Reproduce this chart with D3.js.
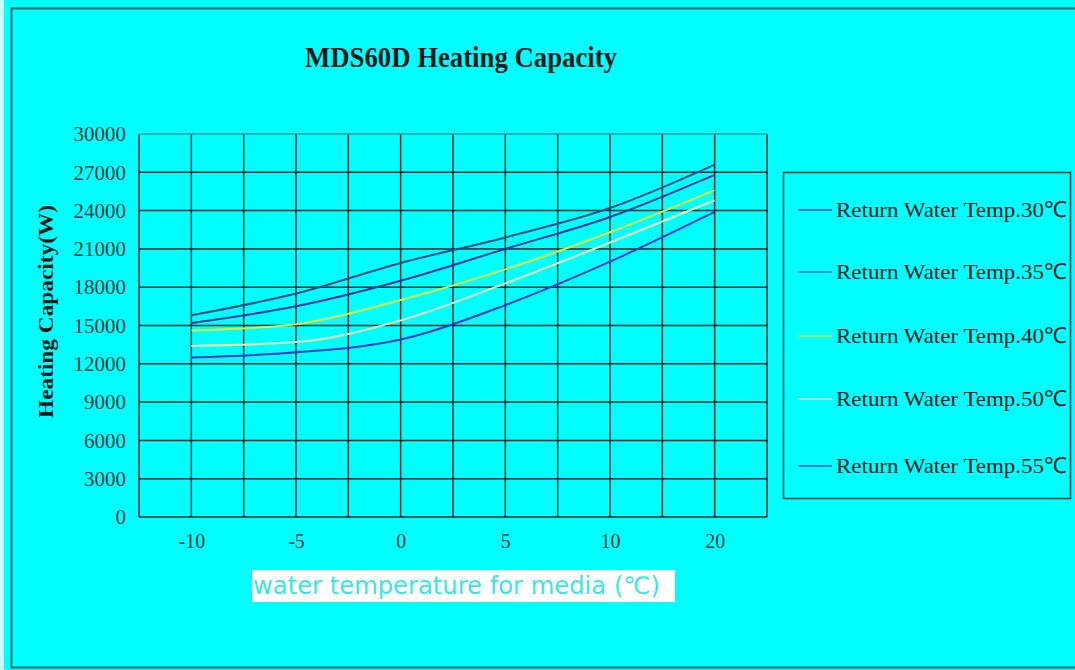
<!DOCTYPE html>
<html>
<head>
<meta charset="utf-8">
<script src="https://cdn.jsdelivr.net/npm/d3@7"></script>
<style>
  body { margin: 0; background: #00ffff; }
  svg { display: block; }
</style>
</head>
<body>
<svg id="chart"></svg>
<script>
// categorias do eixo x (temperatura da água)
let categorias = ["-10", "-5", "0", "5", "10", "20"];
let yTicks = [0, 3000, 6000, 9000, 12000, 15000, 18000, 21000, 24000, 27000, 30000];

// uma série por temperatura de retorno
let nomesSeries = ["Return Water Temp.30℃", "Return Water Temp.35℃", "Return Water Temp.40℃",
                   "Return Water Temp.50℃", "Return Water Temp.55℃"];
let temp30 = [15800, 17500, 19900, 21900, 24200, 27600];
let temp35 = [15200, 16500, 18500, 21000, 23500, 26800];
let temp40 = [14600, 15100, 17000, 19400, 22300, 25600];
let temp50 = [13400, 13700, 15400, 18300, 21500, 24800];
let temp55 = [12500, 12900, 13900, 16600, 20000, 23900];
let series = [temp30, temp35, temp40, temp50, temp55];
let coresLinhas = ["#284a80", "#2c32a0", "#e4f03a", "#eef6b0", "#3535d2"];
let coresLegenda = ["#2a48c8", "#4a68e0", "#d8ec4a", "#e8f4a8", "#2a58d8"];

let width = 1075, height = 670;
let svg = d3.select("#chart")
    .attr("width", width)
    .attr("height", height);

// moldura externa
svg.append("rect").attr("x", 0).attr("y", 0).attr("width", width).attr("height", height).attr("fill", "#00ffff");
svg.append("rect").attr("x", 0).attr("y", 0).attr("width", 4).attr("height", height).attr("fill", "#c8ffff");
svg.append("rect").attr("x", 11.5).attr("y", 8.5).attr("width", 1080).attr("height", 659)
    .attr("fill", "none").attr("stroke", "#1b6a6a").attr("stroke-width", 2);

let area = { left: 139, right: 767, top: 134, bottom: 517 };

let x = d3.scalePoint().domain(categorias).range([area.left, area.right]).padding(0.5);
let y = d3.scaleLinear().domain([0, 30000]).range([area.bottom, area.top]);

// grade: linhas verticais a cada meio passo
let passo = x.step() / 2;
let grade = svg.append("g");
d3.range(0, 13).forEach(function(i){
    let px = area.left + i * passo;
    grade.append("line")
        .attr("x1", px).attr("x2", px)
        .attr("y1", area.top).attr("y2", area.bottom)
        .attr("stroke", "#0b2a2a").attr("stroke-width", 1.5);
});
yTicks.forEach(function(v){
    grade.append("line")
        .attr("x1", area.left).attr("x2", area.right)
        .attr("y1", y(v)).attr("y2", y(v))
        .attr("stroke", v == 30000 ? "#5a8a8a" : "#0b2a2a").attr("stroke-width", 1.5);
});

// eixo y
let eixoY = svg.append("g")
    .attr("transform", "translate(" + (area.left - 13) + ",0)")
    .call(d3.axisLeft(y).tickValues(yTicks).tickSize(0).tickPadding(0).tickFormat(d3.format("d")));
eixoY.select(".domain").remove();
eixoY.selectAll("text")
    .attr("font-family", "Liberation Serif, serif")
    .attr("font-size", 21)
    .attr("fill", "#163a3a");

// eixo x
let eixoX = svg.append("g")
    .attr("transform", "translate(0," + (area.bottom + 17) + ")")
    .call(d3.axisBottom(x).tickSize(0).tickPadding(0));
eixoX.select(".domain").remove();
eixoX.selectAll("text")
    .attr("font-family", "Liberation Serif, serif")
    .attr("font-size", 20)
    .attr("fill", "#163a3a");

// curvas
let linha = d3.line()
    .x((d, i) => x(categorias[i]))
    .y(d => y(d))
    .curve(d3.curveMonotoneX);

svg.append("g").selectAll("path")
    .data(series)
    .enter().append("path")
    .attr("d", linha)
    .attr("fill", "none")
    .attr("stroke", (d, i) => coresLinhas[i])
    .attr("stroke-width", 2);

// título
svg.append("text")
    .attr("x", 305).attr("y", 67)
    .attr("font-family", "Liberation Serif, serif")
    .attr("font-weight", "bold")
    .attr("font-size", 29)
    .attr("textLength", 312)
    .attr("lengthAdjust", "spacingAndGlyphs")
    .attr("fill", "#0a1a1a")
    .text("MDS60D Heating Capacity");

// rótulo do eixo y
svg.append("text")
    .attr("transform", "translate(53,418) rotate(-90)")
    .attr("font-family", "Liberation Serif, serif")
    .attr("font-weight", "bold")
    .attr("font-size", 22)
    .attr("textLength", 213)
    .attr("lengthAdjust", "spacingAndGlyphs")
    .attr("fill", "#0a1a1a")
    .text("Heating Capacity(W)");

// rótulo do eixo x com caixa branca
svg.append("rect")
    .attr("x", 252).attr("y", 570).attr("width", 423).attr("height", 32)
    .attr("fill", "#ffffff");
svg.append("text")
    .attr("x", 253).attr("y", 594)
    .attr("font-family", "DejaVu Sans, sans-serif")
    .attr("font-size", 24)
    .attr("textLength", 407)
    .attr("lengthAdjust", "spacingAndGlyphs")
    .attr("fill", "#3ae6e6")
    .text("water temperature for media (℃)");

// legenda
let legenda = svg.append("g");
legenda.append("rect")
    .attr("x", 783.5).attr("y", 172.5).attr("width", 287).attr("height", 326)
    .attr("fill", "none").attr("stroke", "#1b3a3a").attr("stroke-width", 1.5);
let posLegenda = [210, 272, 336, 399, 466];
nomesSeries.forEach(function(nome, i){
    legenda.append("line")
        .attr("x1", 798).attr("x2", 832)
        .attr("y1", posLegenda[i]).attr("y2", posLegenda[i])
        .attr("stroke", coresLegenda[i]).attr("stroke-width", 1.5);
    legenda.append("text")
        .attr("x", 836).attr("y", posLegenda[i] + 7)
        .attr("font-family", "Liberation Serif, serif")
        .attr("font-size", 22)
        .attr("textLength", 231)
        .attr("lengthAdjust", "spacingAndGlyphs")
        .attr("fill", "#0a1a1a")
        .text(nome);
    legenda.append("text")
        .attr("x", 1069).attr("y", posLegenda[i] + 6)
        .attr("font-family", "Liberation Serif, serif")
        .attr("font-size", 12)
        .attr("fill", "#7a9a9a")
        .text("›");
});
</script>
</body>
</html>
